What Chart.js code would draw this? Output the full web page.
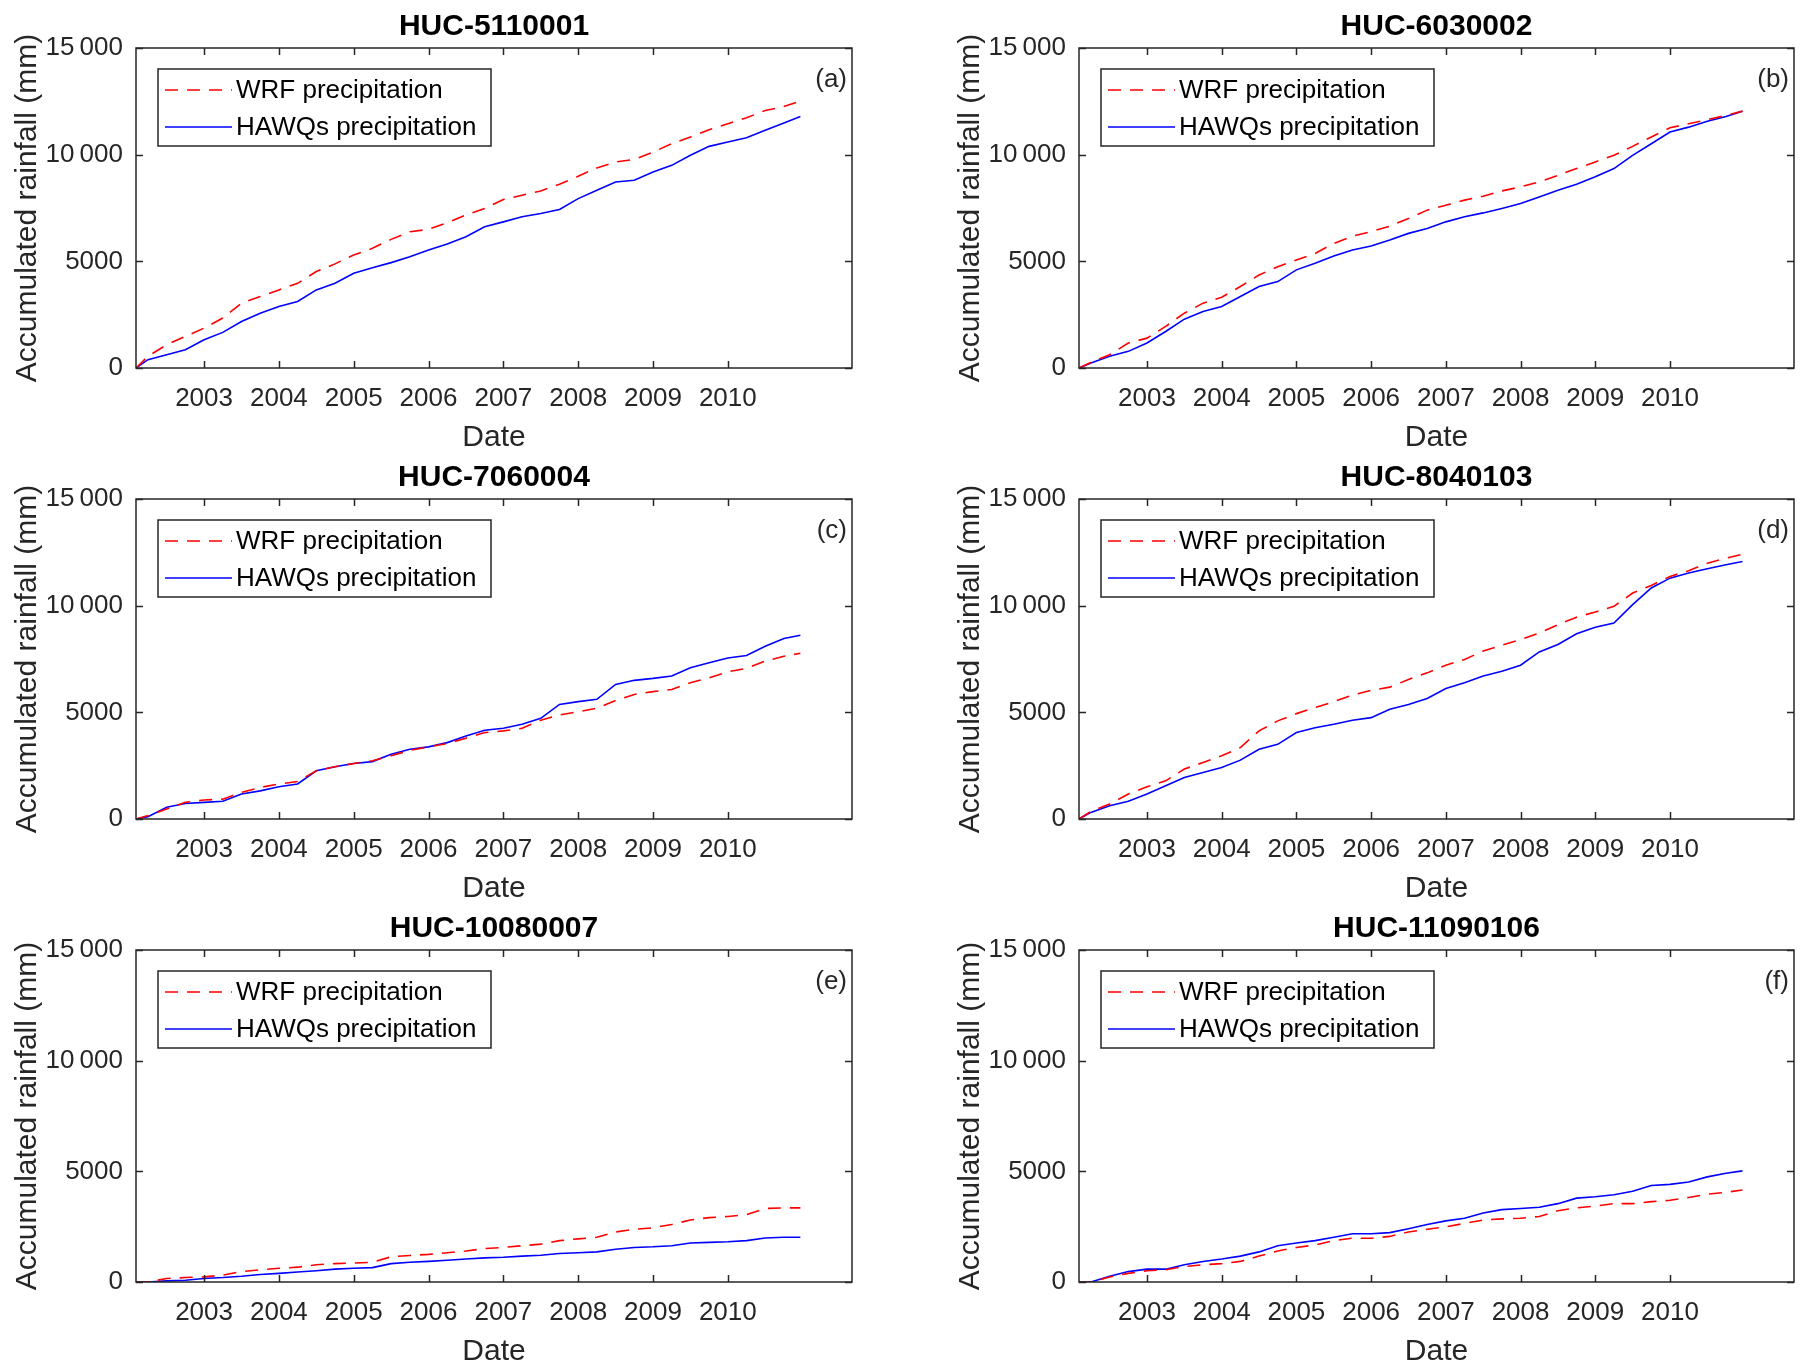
<!DOCTYPE html>
<html>
<head>
<meta charset="utf-8">
<script src="https://cdn.jsdelivr.net/npm/chart.js@4.4.0/dist/chart.umd.min.js"></script>
<style>
  html, body { margin: 0; padding: 0; background: #fff; }
  #wrap { position: relative; width: 1806px; height: 1365px; }
  canvas { position: absolute; }
</style>
</head>
<body>
<div id="wrap"></div>
<script>
// quarterly sample dates (decimal years)
const DATES = [2002.09, 2002.25, 2002.5, 2002.75,
  2003, 2003.25, 2003.5, 2003.75, 2004, 2004.25, 2004.5, 2004.75,
  2005, 2005.25, 2005.5, 2005.75, 2006, 2006.25, 2006.5, 2006.75,
  2007, 2007.25, 2007.5, 2007.75, 2008, 2008.25, 2008.5, 2008.75,
  2009, 2009.25, 2009.5, 2009.75, 2010, 2010.25, 2010.5, 2010.75, 2010.97];

const YEAR_TICKS = [2003, 2004, 2005, 2006, 2007, 2008, 2009, 2010];
const Y_TICKS = [0, 5000, 10000, 15000];

// (a) HUC-5110001
const WRF_A = [0, 550, 1090, 1480, 1870, 2340, 3040, 3350, 3660, 3970, 4520, 4880, 5300, 5610, 6030, 6390, 6500, 6810, 7170, 7480, 7900, 8100, 8300, 8610, 8990, 9380, 9660, 9780, 10120, 10510, 10830, 11170, 11450, 11730, 12070, 12260, 12510];
const HAWQS_A = [0, 390, 620, 860, 1320, 1670, 2180, 2570, 2880, 3120, 3660, 3970, 4440, 4700, 4940, 5220, 5530, 5810, 6150, 6620, 6850, 7090, 7240, 7430, 7940, 8330, 8720, 8800, 9190, 9500, 9970, 10390, 10590, 10790, 11140, 11480, 11790];
// (b) HUC-6030002
const WRF_B = [0, 260, 620, 1170, 1400, 1950, 2570, 3040, 3320, 3820, 4360, 4750, 5060, 5370, 5840, 6180, 6390, 6650, 7010, 7400, 7630, 7870, 8050, 8300, 8490, 8720, 9030, 9350, 9660, 9970, 10390, 10830, 11260, 11450, 11640, 11840, 12040];
const HAWQS_B = [0, 230, 550, 780, 1170, 1710, 2290, 2650, 2880, 3350, 3820, 4050, 4600, 4910, 5250, 5530, 5720, 6000, 6310, 6540, 6850, 7090, 7270, 7480, 7710, 8020, 8330, 8610, 8960, 9350, 9970, 10510, 11060, 11290, 11570, 11790, 12040];
// (c) HUC-7060004
const WRF_C = [0, 160, 470, 780, 890, 930, 1250, 1480, 1640, 1760, 2260, 2450, 2600, 2730, 2960, 3220, 3380, 3540, 3790, 4050, 4130, 4250, 4630, 4880, 5030, 5190, 5560, 5840, 5970, 6070, 6390, 6620, 6900, 7060, 7400, 7630, 7770];
const HAWQS_C = [0, 110, 550, 730, 780, 830, 1170, 1320, 1510, 1640, 2260, 2450, 2600, 2690, 3040, 3270, 3380, 3580, 3890, 4160, 4250, 4440, 4720, 5370, 5500, 5610, 6310, 6500, 6590, 6700, 7090, 7320, 7550, 7660, 8100, 8460, 8610];
// (d) HUC-8040103
const WRF_D = [0, 360, 700, 1170, 1510, 1790, 2340, 2650, 2960, 3350, 4130, 4600, 4940, 5220, 5500, 5810, 6030, 6180, 6540, 6850, 7210, 7480, 7870, 8150, 8410, 8720, 9110, 9460, 9700, 9970, 10590, 10950, 11370, 11640, 11990, 12230, 12410];
const HAWQS_D = [0, 310, 620, 830, 1170, 1560, 1950, 2180, 2410, 2760, 3270, 3500, 4050, 4280, 4440, 4630, 4750, 5140, 5370, 5650, 6120, 6390, 6700, 6930, 7210, 7830, 8180, 8680, 8990, 9190, 10050, 10830, 11290, 11530, 11730, 11920, 12070];
// (e) HUC-10080007
const WRF_E = [0, 0, 160, 200, 230, 310, 470, 550, 620, 670, 780, 830, 860, 890, 1140, 1200, 1250, 1320, 1400, 1510, 1560, 1640, 1710, 1870, 1950, 2020, 2260, 2380, 2450, 2600, 2800, 2910, 2960, 3040, 3320, 3350, 3350];
const HAWQS_E = [0, 0, 50, 80, 160, 200, 260, 340, 390, 450, 510, 580, 620, 650, 830, 890, 930, 980, 1040, 1090, 1120, 1170, 1210, 1290, 1320, 1360, 1480, 1560, 1590, 1640, 1760, 1790, 1820, 1870, 1990, 2020, 2020];
// (f) HUC-11090106
const WRF_F = [0, 0, 230, 390, 510, 550, 700, 780, 830, 930, 1170, 1400, 1560, 1670, 1870, 1980, 1980, 2060, 2260, 2380, 2490, 2650, 2800, 2850, 2880, 2960, 3220, 3350, 3430, 3540, 3540, 3630, 3690, 3820, 3970, 4050, 4160];
const HAWQS_F = [0, 0, 260, 470, 580, 580, 780, 930, 1040, 1170, 1360, 1640, 1760, 1870, 2020, 2180, 2180, 2230, 2410, 2600, 2760, 2880, 3120, 3270, 3320, 3380, 3540, 3790, 3850, 3940, 4100, 4360, 4410, 4520, 4750, 4910, 5020];

const PANELS = [
  { title: "HUC-5110001", tag: "(a)", wrf: WRF_A, hawqs: HAWQS_A, col: 0, row: 0 },
  { title: "HUC-6030002", tag: "(b)", wrf: WRF_B, hawqs: HAWQS_B, col: 1, row: 0 },
  { title: "HUC-7060004", tag: "(c)", wrf: WRF_C, hawqs: HAWQS_C, col: 0, row: 1 },
  { title: "HUC-8040103", tag: "(d)", wrf: WRF_D, hawqs: HAWQS_D, col: 1, row: 1 },
  { title: "HUC-10080007", tag: "(e)", wrf: WRF_E, hawqs: HAWQS_E, col: 0, row: 2 },
  { title: "HUC-11090106", tag: "(f)", wrf: WRF_F, hawqs: HAWQS_F, col: 1, row: 2 },
];

const FONT = '"Liberation Sans", Arial, Helvetica, sans-serif';
const INK = "#262626";

// MATLAB-ish box: frame, inward ticks on all four sides, title, legend, panel tag
const matlabBox = {
  id: "matlabBox",
  afterDraw(chart, _args, opts) {
    const { ctx, chartArea: a, scales } = chart;
    const x = scales.x, y = scales.y;
    ctx.save();
    ctx.strokeStyle = INK;
    ctx.lineWidth = 1.5;
    ctx.strokeRect(a.left, a.top, a.right - a.left, a.bottom - a.top);
    const tl = 7;
    ctx.beginPath();
    x.ticks.forEach((t) => {
      const px = Math.round(x.getPixelForValue(t.value)) + 0.5;
      ctx.moveTo(px, a.bottom); ctx.lineTo(px, a.bottom - tl);
      ctx.moveTo(px, a.top); ctx.lineTo(px, a.top + tl);
    });
    y.ticks.forEach((t) => {
      const py = Math.round(y.getPixelForValue(t.value)) + 0.5;
      ctx.moveTo(a.left, py); ctx.lineTo(a.left + tl, py);
      ctx.moveTo(a.right, py); ctx.lineTo(a.right - tl, py);
    });
    ctx.stroke();

    // title over the plot area
    ctx.fillStyle = "#000";
    ctx.font = "bold 30px " + FONT;
    ctx.textAlign = "center";
    ctx.textBaseline = "middle";
    ctx.fillText(opts.title, (a.left + a.right) / 2, 27);

    // panel tag
    ctx.font = "26px " + FONT;
    ctx.textAlign = "right";
    ctx.fillStyle = INK;
    ctx.fillText(opts.tag, a.right - 5, a.top + 32);

    // legend box
    const bx = a.left + 22, by = a.top + 21, bw = 333, bh = 77;
    ctx.fillStyle = "#fff";
    ctx.fillRect(bx, by, bw, bh);
    ctx.strokeStyle = INK;
    ctx.lineWidth = 1.5;
    ctx.strokeRect(bx, by, bw, bh);
    chart.data.datasets.forEach((ds, i) => {
      const ry = by + 21 + i * 37;
      ctx.beginPath();
      ctx.strokeStyle = ds.borderColor;
      ctx.lineWidth = ds.borderWidth;
      ctx.setLineDash(ds.borderDash || []);
      ctx.moveTo(bx + 7, ry); ctx.lineTo(bx + 74, ry);
      ctx.stroke();
      ctx.setLineDash([]);
      ctx.fillStyle = "#000";
      ctx.textAlign = "left";
      ctx.font = "26px " + FONT;
      ctx.fillText(ds.label, bx + 78, ry + 1);
    });
    ctx.restore();
  },
};

function fmtY(v) {
  return v >= 10000 ? String(v).replace(/(\d+)(\d{3})$/, "$1\u2009$2") : String(v);
}

const wrap = document.getElementById("wrap");
PANELS.forEach((p) => {
  const cv = document.createElement("canvas");
  const w = p.col === 0 ? 903 : 863;
  const h = p.row === 2 ? 463 : 451;
  cv.width = w; cv.height = h;
  cv.style.left = (p.col === 0 ? 0 : 943) + "px";
  cv.style.top = p.row * 451 + "px";
  wrap.appendChild(cv);

  new Chart(cv, {
    type: "line",
    data: {
      datasets: [
        {
          label: "WRF precipitation",
          data: DATES.map((d, i) => ({ x: d, y: p.wrf[i] })),
          borderColor: "#ff0000",
          borderWidth: 1.6,
          borderDash: [13, 9],
          pointRadius: 0,
        },
        {
          label: "HAWQs precipitation",
          data: DATES.map((d, i) => ({ x: d, y: p.hawqs[i] })),
          borderColor: "#0000ff",
          borderWidth: 1.6,
          pointRadius: 0,
        },
      ],
    },
    plugins: [matlabBox],
    options: {
      responsive: false,
      animation: false,
      devicePixelRatio: 1,
      layout: { padding: { top: 48, right: p.col === 0 ? 51 : 12, left: 0, bottom: 0 } },
      plugins: {
        legend: { display: false },
        tooltip: { enabled: false },
        matlabBox: { title: p.title, tag: p.tag },
      },
      scales: {
        x: {
          type: "linear",
          min: 2002.09,
          max: 2011.66,
          afterBuildTicks: (s) => { s.ticks = YEAR_TICKS.map((v) => ({ value: v })); },
          afterFit: (s) => { s.height = 83; },
          grid: { display: false, drawTicks: false },
          border: { display: false },
          ticks: { color: INK, font: { family: FONT, size: 26 }, padding: 15, maxRotation: 0, callback: (v) => String(v) },
          title: { display: true, text: "Date", color: INK, font: { family: FONT, size: 30, lineHeight: 0.86 }, padding: { top: 0, bottom: 0 } },
        },
        y: {
          min: 0,
          max: 15000,
          afterBuildTicks: (s) => { s.ticks = Y_TICKS.map((v) => ({ value: v })); },
          afterFit: (s) => { s.width = 136; },
          grid: { display: false, drawTicks: false },
          border: { display: false },
          ticks: { color: INK, font: { family: FONT, size: 26 }, padding: 13, callback: (v) => fmtY(v) },
          title: { display: true, text: "Accumulated rainfall (mm)", color: INK, font: { family: FONT, size: 30, lineHeight: 1 }, padding: { top: 13, bottom: 0 } },
        },
      },
    },
  });
});
</script>
</body>
</html>
